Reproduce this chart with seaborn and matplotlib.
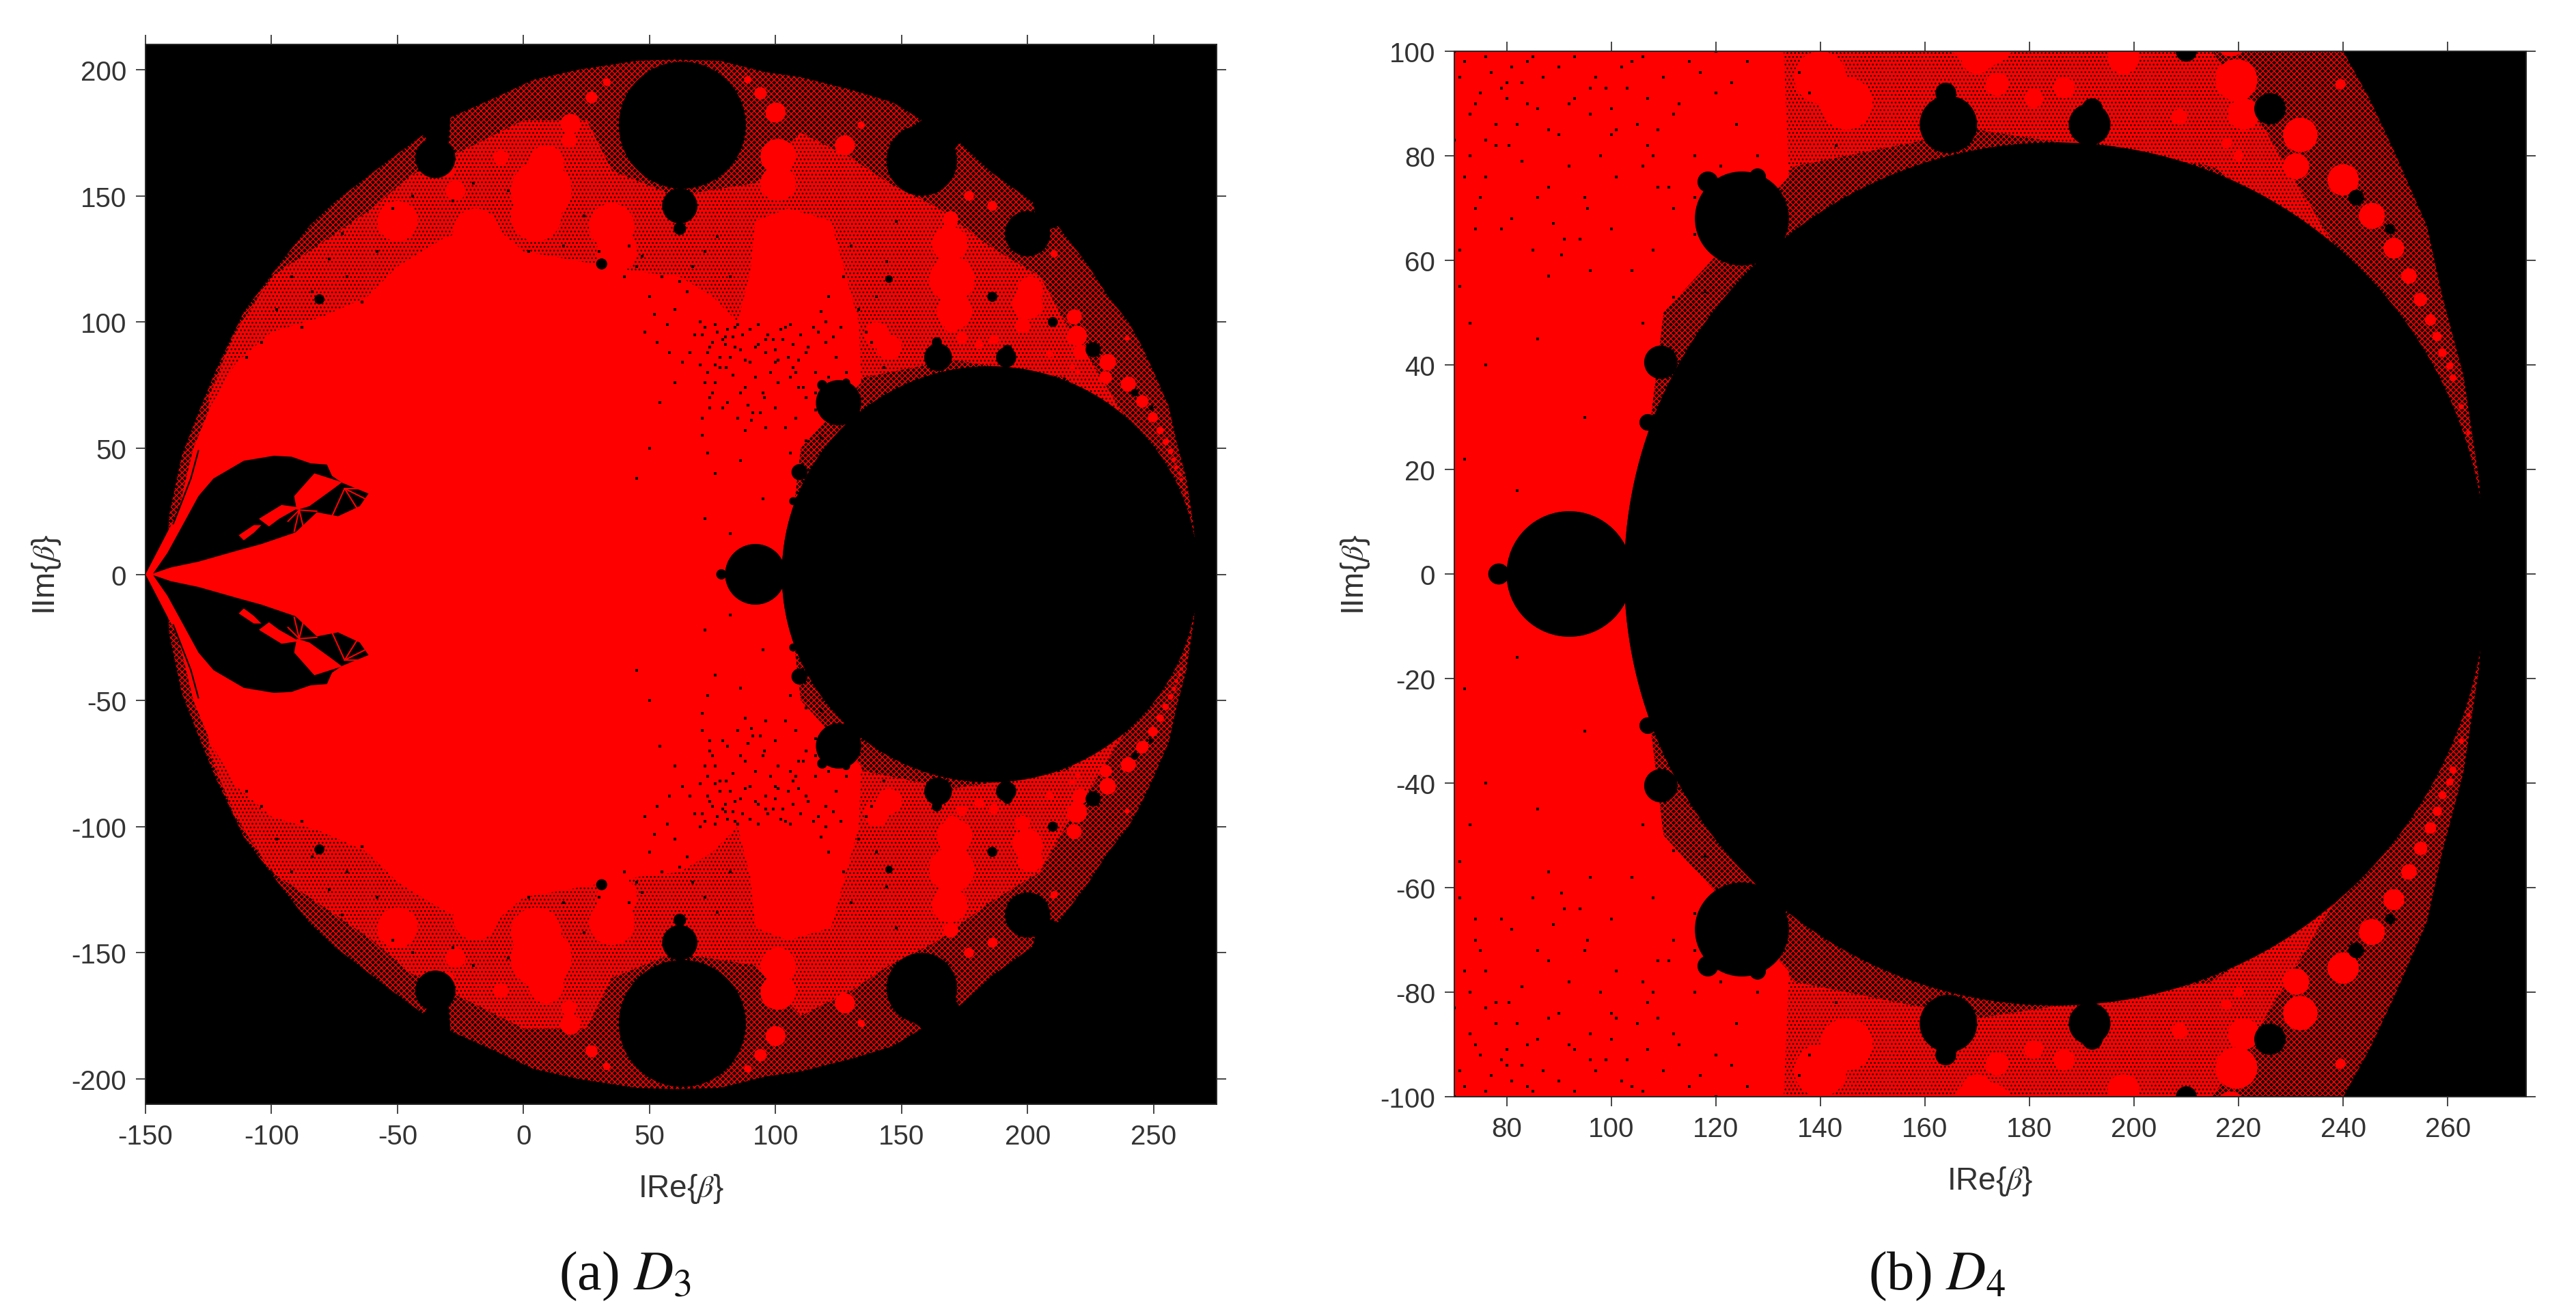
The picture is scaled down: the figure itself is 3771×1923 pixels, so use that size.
import numpy as np
import matplotlib
matplotlib.use("Agg")
import matplotlib.pyplot as plt
import seaborn as sns

W, H = 3771, 1924
DPI = 100

# ---- values (upper half; the set mirrors in Im = 0) ----
envelope_x = [-150,-141.5,-140.5,-135.6,-129,-122,-111,-96,-85,-75,-53.6,-40,-30,-29,-11,4,22,45,60,78,96,110,130,146.5,158,147,155,165,173,186,202,205,212,223.6,232,240,245,249.7,256,259,263,266,267]
envelope_y = [0,9,24,47,64,81,104,124,138,147.5,164,174,166,181,189,196,200,203.5,204,203.5,199,197,192,187,180,172,160,160,171,159,147.5,135,138,123,110,100,91,81,66.6,53,38,18,0]

mid_x = [-125,-115,-100,-85,-60,-45,-20,0,25,35,60,92,110,130,145,165,185,205,215,225,240,215,170,135,110,104,-150]
mid_y = [70,95,118,128,145,158,170,180,180,160,150,155,175,165,155,145,130,118,100,85,60,78,85,78,50,0,0]

core_x = [-150,-137,-131,-124,-114,-100,-80,-62,-50,-32,-14,0,45,62,75,85,90,92,105,122,128,133,134,110,104]
core_y = [0,25,50,67,84,96,102,110,122,133,140,128,120,118,110,100,120,140,145,140,118,100,76,50,0]

# black discs: main set, buds and bites
disc_x = [185,63,62,62,158,-35,164.5,164,191.5,192,125,118.5,128,109.5,107,92,78.5,210,226,200,186,145,242.5,249,-81,31]
disc_y = [0,178,146,137,164,165,86,92,86,89,68,75,76,40.5,29,0,0,100,89,135,110,117,72,66,109,123]
disc_r = [82.5,25.2,7,2.5,14,8,5.5,2,4,2,9,2,1.6,3.2,1.6,12,2,2,3,9,2,1.5,1.5,1,2,2.2]

# solid red blobs along the rim
blob_x = [219.6,218.5,221,231.8,231,240,245.5,249.7,252.6,254.8,256.7,258,259,260.4,261,262.6,264,173.8,180.8,186.6,198,170,208.7,217.7,220,239.5,7,9,5,18.6,18,27,33,-19,-27,-50,-30,-9,35,37,101,101,100,94,89,127.5,134,170,169,171,200,201,176.7,186,169.5,210.5,145,140]
blob_y = [94.5,102,88,84,78,75.4,68.5,62.3,57,52.5,48.6,45.4,42.3,39.8,37.5,32,27,93.7,91,93,98.7,98.7,87.4,82.4,80,93.7,152,163,142,178.5,172,189,195,136,152,140,160,165,138,128,165.6,155,183,190.6,196,170,178,117,131,104,107,113,150,146,141,127,90,95]
blob_r = [4,3,3,3.3,2.5,3,2.5,2,1.5,1.3,1.1,.9,.8,.7,.7,.5,.4,2.2,1.8,2,3,3,1.5,1,1,1,12,7,10,4,3,2.4,1.5,9,4,8,2.5,3,9,8,7,7,4,2.5,1.5,4,1.5,9,7,7,6,5,2,2,3,1.5,5,5]

# upper black leaf at the left cusp
leaf_x = [-147,-141.3,-135,-129,-123,-111,-99,-92,-84.5,-78,-76,-72,-61.5,-65,-73.6,-82,-90.5,-104,-113.5,-129,-140]
leaf_y = [0.3,8.5,20,31,38,45,47,46.6,44,43.5,39,36.3,32,27,23,24.6,16.6,12,9.4,5,2.7]

# red islands inside the leaf
isle1_x = [-91,-83,-72,-76,-85,-90]
isle1_y = [31,40,36.5,33.5,27,25.5]
isle2_x = [-105,-96,-89,-97,-101]
isle2_y = [22,27.5,26.5,22,19]
isle3_x = [-113,-107,-104,-107,-111]
isle3_y = [15.5,19.5,19.5,16.5,13.5]
rift_x = [-139,-132,-129]
rift_y = [20,38,49]

# red rays of the two fans at the leaf edge
fan1_cx, fan1_cy = -71, 34
fan1_ex = [-62,-63,-66,-71,-76]
fan1_ey = [34,30,26,23,23]
fan2_cx, fan2_cy = -89, 25.5
fan2_ex = [-82,-87,-91,-93.5]
fan2_ey = [25,17,17,21]

# black specks
speck_x = [72,75,78,81,84,87,90,93,96,99,102,105,73,76,80,83,88,92,95,98,101,107,110,74,79,85,89,94,100,104,108,112,116,120,45,50,55,60,65,70,48,53,58,63,68,42,47,52,57,62,67,72,77,82,66,60,54,115,118,121,124,112,109,106,130,127,136,140,144,148,133,138,143,-104,-98,-92,-110,-88,-84,-77,-70,-64,-58,-100,-94,-72,-52,-44,-36,-40,-28,-20,-6,2,16,24,30,40,80.5,90.5,95.5,107,88,86,50,45,72,118,82,95,
           71,74,77,70,73,76,79,72,75,78,82,85,71,74,83,86,90,93,97,100,103,106,109,113,117,120,123,126,116,119,122,125,128,131,71,73,76,80,84,88,92,96,100,104,108,112,76,81,86,91,96,101,106,111,116,121]
speck_y = [98,92,86,97,90,95,84,99,88,93,97,86,80,83,91,79,74,78,72,80,76,91,95,70,66,62,67,64,66,58,62,53,80,92,122,110,118,105,112,100,96,92,88,84,95,130,126,103,99,116,122,128,134,118,88,76,68,98,104,110,86,70,74,48,130,118,96,110,124,140,105,92,82,92,105,118,86,98,112,125,118,108,128,118,130,135,145,150,158,165,148,155,152,128,130,142,128,118,82,61,70,82,57,45,50,38,22,54,16,30,
           95,90,96,83,88,99,93,76,72,82,86,99,62,66,94,89,97,91,95,89,93,99,85,90,96,100,94,98,72,76,69,75,80,70,55,48,40,94,98,85,90,93,84,98,80,88,76,68,72,64,58,85,78,74,65,78]


def px_per_unit(ax):
    p0 = ax.transData.transform((0, 0))
    p1 = ax.transData.transform((1, 0))
    return p1[0] - p0[0]


def both(v):
    return list(v) + [-a for a in v]


def draw(ax, xlim, ylim, xticks, yticks):
    ax.set_xlim(*xlim)
    ax.set_ylim(*ylim)
    ax.set_facecolor("black")
    ppu = px_per_unit(ax)
    to_s = lambda r: (2 * np.asarray(r) * ppu * 72 / DPI) ** 2

    ex = envelope_x + envelope_x[::-1]
    ey = envelope_y + [-a for a in envelope_y[::-1]]
    ax.fill(ex, ey, facecolor="black", edgecolor="#ff0000", hatch="xxxx", linewidth=0, zorder=1)
    mx = mid_x + mid_x[::-1]
    my = mid_y + [-a for a in mid_y[::-1]]
    ax.fill(mx, my, facecolor="#ff0000", edgecolor="black", hatch="...", linewidth=0, zorder=1.5)
    cx = core_x + core_x[::-1]
    cy = core_y + [-a for a in core_y[::-1]]
    ax.fill(cx, cy, color="#ff0000", linewidth=0, zorder=2)

    sns.scatterplot(x=blob_x + blob_x, y=both(blob_y), s=to_s(blob_r + blob_r), color="#ff0000",
                    linewidth=0, ax=ax, zorder=3, legend=False)
    sns.scatterplot(x=disc_x + disc_x, y=both(disc_y), s=to_s(disc_r + disc_r), color="black",
                    linewidth=0, ax=ax, zorder=4, legend=False)

    for sign in (1, -1):
        ax.fill(leaf_x, [sign * a for a in leaf_y], color="black", linewidth=0, zorder=5)
        for ix, iy in ((isle1_x, isle1_y), (isle2_x, isle2_y), (isle3_x, isle3_y)):
            ax.fill(ix, [sign * a for a in iy], color="#ff0000", linewidth=0, zorder=6)
        sns.lineplot(x=rift_x, y=[sign * a for a in rift_y], color="black", lw=1.6, ax=ax,
                     zorder=6, sort=False, errorbar=None)
        for c_x, c_y, e_x, e_y in ((fan1_cx, fan1_cy, fan1_ex, fan1_ey), (fan2_cx, fan2_cy, fan2_ex, fan2_ey)):
            for a, b in zip(e_x, e_y):
                sns.lineplot(x=[c_x, a], y=[sign * c_y, sign * b], color="#ff0000", lw=1.5, ax=ax,
                             zorder=6, sort=False, errorbar=None)

    sns.scatterplot(x=speck_x + speck_x, y=both(speck_y), s=5, marker="s", color="black",
                    linewidth=0, ax=ax, zorder=7, legend=False)

    ax.set_xlim(*xlim)
    ax.set_ylim(*ylim)
    ax.set_xticks(xticks)
    ax.set_yticks(yticks)
    ax.tick_params(axis="both", which="major", direction="out", length=10, width=1.2, color="#262626",
                   labelcolor="#333333", labelsize=29, top=True, right=True, pad=10)
    for s in ax.spines.values():
        s.set_visible(True)
        s.set_color("#262626")
        s.set_linewidth(1.4)
        s.set_zorder(10)
    ax.set_xlabel(r"IRe{$\beta$}", fontsize=33, color="#333333", labelpad=24)
    ax.set_ylabel(r"IIm{$\beta$}", fontsize=33, color="#333333", labelpad=9)


sns.set_theme(style="ticks")
plt.rcParams["font.family"] = ["Liberation Sans", "DejaVu Sans"]
plt.rcParams["axes.unicode_minus"] = False
plt.rcParams["mathtext.fontset"] = "stix"
plt.rcParams["hatch.linewidth"] = 1.1

fig = plt.figure(figsize=(W / DPI, H / DPI), dpi=DPI, facecolor="white")


def box(l, t, r, b):
    return [l / W, 1 - b / H, (r - l) / W, (b - t) / H]


ax_a = fig.add_axes(box(213, 66, 1781, 1617))
ax_b = fig.add_axes(box(2129, 76, 3698, 1606))

draw(ax_a, (-150, 275), (-210, 210), list(range(-150, 251, 50)), list(range(-200, 201, 50)))
draw(ax_b, (70, 275), (-100, 100), list(range(80, 261, 20)), list(range(-100, 101, 20)))

fig.text(915 / W, 1 - 1868 / H, r"(a) $D_3$", fontsize=58, family="Liberation Serif", color="#111111",
         ha="center", va="center")
fig.text(2835 / W, 1 - 1868 / H, r"(b) $D_4$", fontsize=58, family="Liberation Serif", color="#111111",
         ha="center", va="center")

fig.savefig("out.png", dpi=DPI, facecolor="white")
